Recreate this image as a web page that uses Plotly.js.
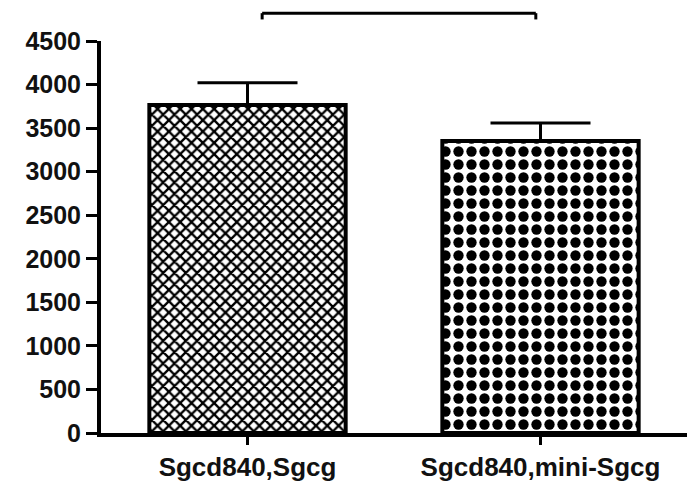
<!DOCTYPE html>
<html>
<head>
<meta charset="utf-8">
<script src="https://cdn.plot.ly/plotly-3.0.1.min.js"></script>
<style>html,body{margin:0;padding:0;background:#fff;}#chart{width:687px;height:483px;}</style>
</head>
<body>
<div id="chart"></div>
<script>
const categories = ["Sgcd840,Sgcg", "Sgcd840,mini-Sgcg"];
const means = [3765, 3352];
const errorsUp = [255, 207];
const yTicks = [0, 500, 1000, 1500, 2000, 2500, 3000, 3500, 4000, 4500];
const patterns = ["x", "."];

const tickFont = {family: "Liberation Sans, Arial, sans-serif", size: 26, color: "#111", weight: "bold"};

const traces = categories.map((c, i) => ({
  type: "bar",
  x: [c],
  y: [means[i]],
  width: 0.67,
  marker: {
    color: "#fff",
    line: {color: "#000", width: 4},
    pattern: {shape: patterns[i], fgcolor: "#000", bgcolor: "#fff",
              size: i === 0 ? 8 : 13, solidity: i === 0 ? 0.5 : 0.5}
  },
  error_y: {type: "data", symmetric: false, array: [errorsUp[i]], arrayminus: [0],
            color: "#000", thickness: 3, width: 50},
  showlegend: false,
  hoverinfo: "skip"
}));

const layout = {
  width: 687, height: 483,
  margin: {l: 101, r: 0, t: 41, b: 50},
  paper_bgcolor: "#fff", plot_bgcolor: "#fff",
  font: {family: "Liberation Sans, Arial, sans-serif", size: 24, color: "#111"},
  xaxis: {
    type: "category", categoryarray: categories, range: [-0.5, 1.5],
    showline: true, linecolor: "#000", linewidth: 4,
    ticks: "outside", ticklen: 8, tickwidth: 3, tickcolor: "#000",
    showgrid: false, zeroline: false,
    tickfont: tickFont
  },
  yaxis: {
    range: [0, 4500], tickvals: yTicks, ticktext: yTicks.map(String),
    showline: true, linecolor: "#000", linewidth: 4,
    ticks: "outside", ticklen: 11, tickwidth: 3, tickcolor: "#000",
    showgrid: false, zeroline: false,
    tickfont: {family: "Liberation Sans, Arial, sans-serif", size: 25, color: "#111", weight: "bold"}
  },
  shapes: [
    {type: "line", xref: "paper", yref: "paper", x0: 0.275, x1: 0.742, y0: 1.071, y1: 1.071,
     line: {color: "#000", width: 3}},
    {type: "line", xref: "paper", yref: "paper", x0: 0.275, x1: 0.275, y0: 1.071, y1: 1.055,
     line: {color: "#000", width: 3}},
    {type: "line", xref: "paper", yref: "paper", x0: 0.742, x1: 0.742, y0: 1.071, y1: 1.055,
     line: {color: "#000", width: 3}}
  ]
};

Plotly.newPlot("chart", traces, layout, {staticPlot: true, displayModeBar: false});
</script>
</body>
</html>
